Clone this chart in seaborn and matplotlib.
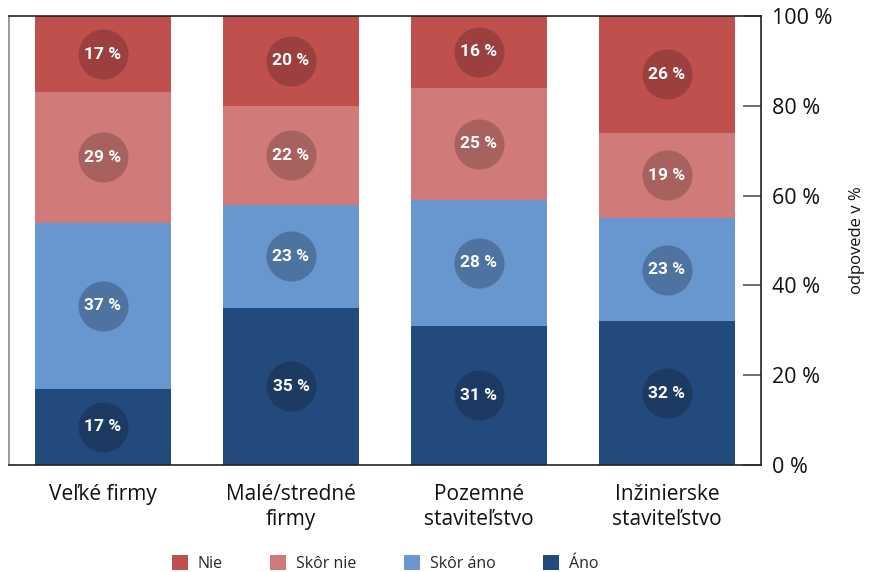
import numpy as np
import pandas as pd
import matplotlib
matplotlib.use("Agg")
import matplotlib.pyplot as plt
import seaborn as sns
from matplotlib.patches import Patch

# --------------------------------------------------
# data (bottom -> top)
# --------------------------------------------------
categories = ["Veľké firmy", "Malé/stredné\nfirmy", "Pozemné\nstaviteľstvo", "Inžinierske\nstaviteľstvo"]
ano = [17, 35, 31, 32]
skor_ano = [37, 23, 28, 23]
skor_nie = [29, 22, 25, 19]
nie = [17, 20, 16, 26]

series_names = ["Áno", "Skôr áno", "Skôr nie", "Nie"]
series_vals = [ano, skor_ano, skor_nie, nie]
colors = ["#234A7D", "#6797CE", "#D07B7A", "#C0504D"]
circle_colors = ["#1D3A63", "#4F73A0", "#A76260", "#9B403E"]

sns.set_style("white")
plt.rcParams['font.family'] = ['Open Sans', 'DejaVu Sans']

fig = plt.figure(figsize=(8.73, 5.72), dpi=100)
ax = fig.add_axes([9 / 873, 107 / 572, 752 / 873, 449 / 572])

df = pd.DataFrame({s: v for s, v in zip(series_names, series_vals)}, index=categories)
cum = df.cumsum(axis=1)

# draw from the tallest stack down so the lower segments overlay
for name, col in zip(series_names[::-1], colors[::-1]):
    sns.barplot(x=list(range(len(categories))), y=cum[name].values, color=col,
                width=0.725, saturation=1, ax=ax, native_scale=True,
                linewidth=0, edgecolor="none")

# circles with labels
for i, cat in enumerate(categories):
    bottom = 0
    for name, ccol in zip(series_names, circle_colors):
        v = df.loc[cat, name]
        yc = bottom + v / 2
        ax.scatter(i, yc, s=1300, color=ccol, zorder=3, linewidths=0)
        ax.text(i, yc, f"{v} %", ha="center", va="center", color="white",
                fontsize=12.5, fontweight="bold", zorder=4,
                family=['Roboto', 'DejaVu Sans'])
        bottom += v

ax.set_xlim(-0.5, 3.5)
ax.set_ylim(0, 100)

# x axis: labels at centers, ticks between
ax.set_xticks(range(len(categories)))
ax.set_xticklabels(categories, fontsize=15, color="#111111", linespacing=1.2)
ax.tick_params(axis="x", which="major", length=0, pad=14)
ax.set_xticks([-0.5, 0.5, 1.5, 2.5, 3.5], minor=True)
ax.tick_params(axis="x", which="minor", direction="in", length=8, width=1.2, color="#777777")

# y axis on right
ax.yaxis.tick_right()
ax.yaxis.set_label_position("right")
ax.set_yticks([0, 20, 40, 60, 80, 100])
ax.set_yticklabels([f"{t} %" for t in [0, 20, 40, 60, 80, 100]], fontsize=15.5, color="#111111")
ax.tick_params(axis="y", which="major", direction="in", length=13, width=1.2,
               color="#555555", pad=8)
ax.set_ylabel("odpovede v %", fontsize=12, labelpad=12, color="#111111")
ax.set_xlabel("")

for side in ["top", "right", "bottom"]:
    ax.spines[side].set_color("#222222")
    ax.spines[side].set_linewidth(1.2)
ax.spines["left"].set_color("#888888")
ax.spines["left"].set_linewidth(1.2)

# legend
handles = [Patch(facecolor=c, edgecolor="none") for c in colors[::-1]]
ax.legend(handles, series_names[::-1], loc="center", bbox_to_anchor=(0.5, -0.22),
          ncol=4, frameon=False, fontsize=11.5, handlelength=1.0, handleheight=1.0,
          columnspacing=3.0, handletextpad=0.6)

fig.savefig("out.png", dpi=100)
